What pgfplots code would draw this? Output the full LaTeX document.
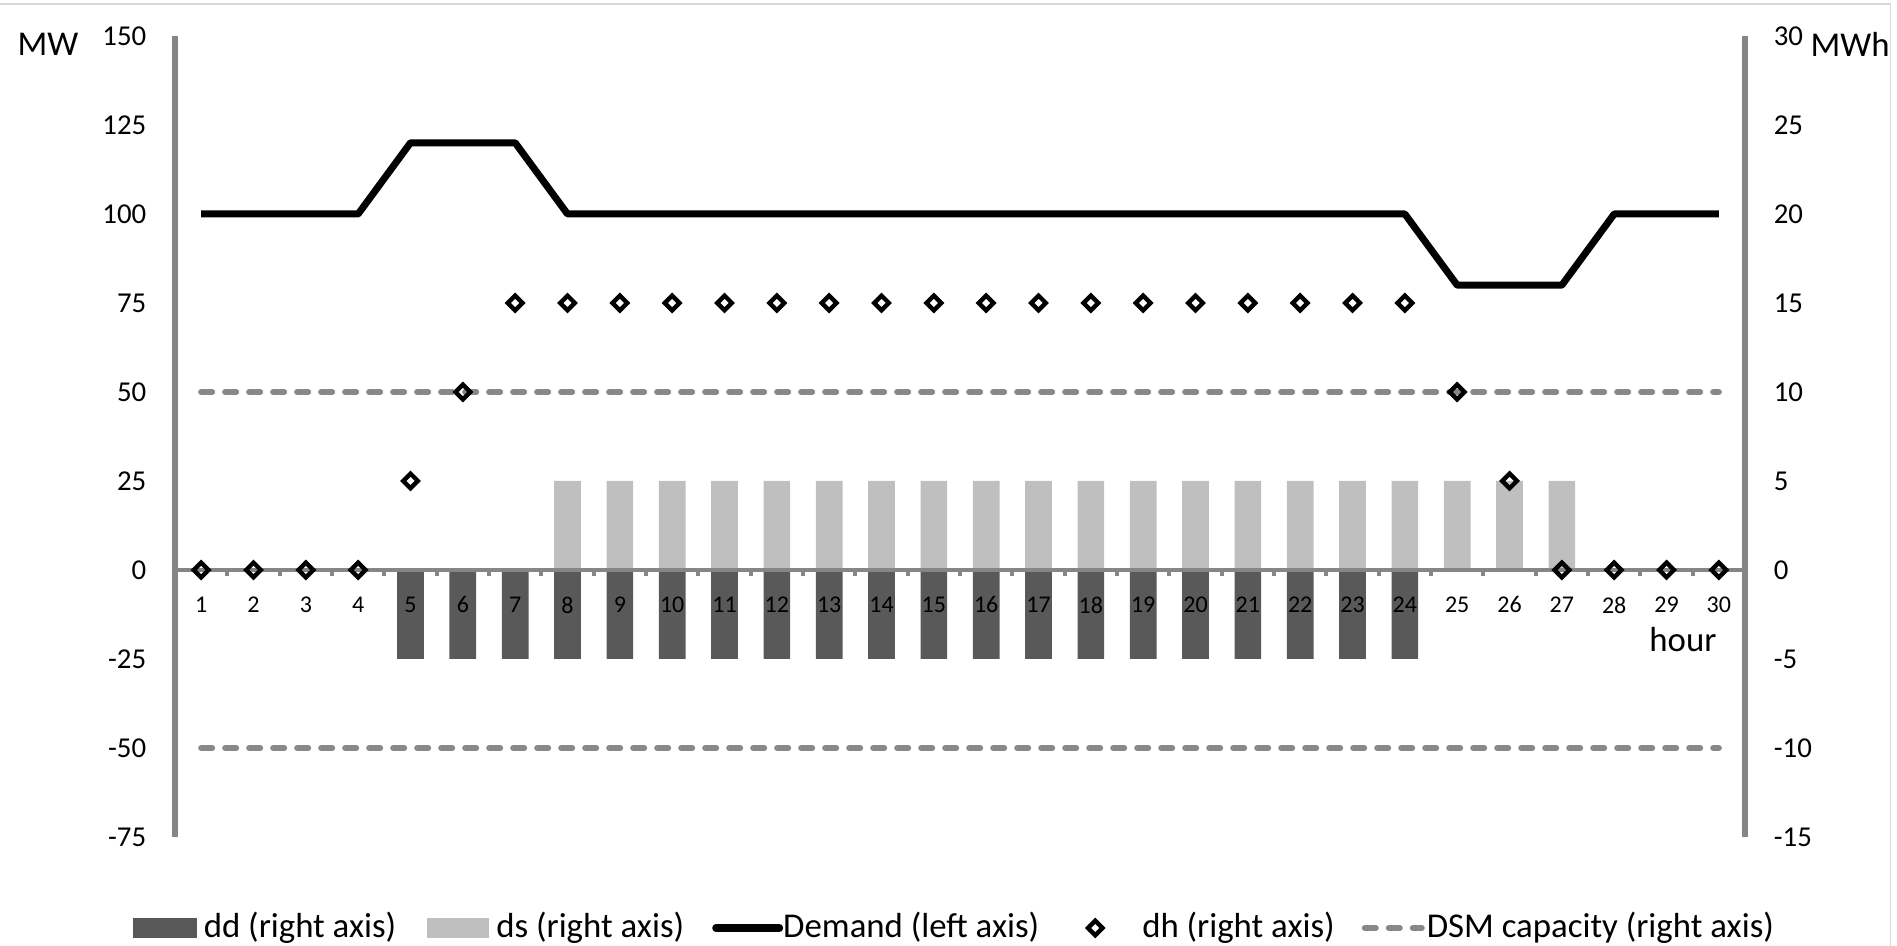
\documentclass[border=0pt]{standalone}
\usepackage{fontspec}
\setmainfont{Carlito}
\usepackage{pgfplots}
\pgfplotsset{compat=1.18}
\definecolor{ddcol}{RGB}{89,89,89}
\definecolor{dscol}{RGB}{191,191,191}
\definecolor{axgray}{RGB}{134,134,134}
\definecolor{dashgray}{RGB}{136,136,136}
\definecolor{framegray}{RGB}{217,217,217}
\begin{document}
\begin{tikzpicture}
\pgfplotsset{
  base/.style={scale only axis, width=392.5pt, height=200.25pt,
    xmin=0.5, xmax=30.5, clip=false,
    /pgf/number format/assume math mode=true,
    hide obscured x ticks=false, hide obscured y ticks=false},
}
% ---------- right axis: bars ----------
\begin{axis}[base, ymin=-15, ymax=30,
  axis y line*=right, axis x line=none,
  y axis line style={draw=axgray, line width=1.4pt},
  ytick={-15,-10,...,30}, major tick length=0pt, xtick=\empty,
  yticklabel style={font=\fontsize{7.2}{8}\selectfont, inner sep=0pt, xshift=7pt, anchor=west},
]
\addplot[ybar, bar width=0.51, bar shift=0pt, fill=ddcol, draw=none] coordinates {
(5,-5)(6,-5)(7,-5)(8,-5)(9,-5)(10,-5)(11,-5)(12,-5)(13,-5)(14,-5)
(15,-5)(16,-5)(17,-5)(18,-5)(19,-5)(20,-5)(21,-5)(22,-5)(23,-5)(24,-5)};
\addplot[ybar, bar width=0.51, bar shift=0pt, fill=dscol, draw=none] coordinates {
(8,5)(9,5)(10,5)(11,5)(12,5)(13,5)(14,5)(15,5)(16,5)(17,5)
(18,5)(19,5)(20,5)(21,5)(22,5)(23,5)(24,5)(25,5)(26,5)(27,5)};
\node[anchor=base, font=\fontsize{8.7}{10}\selectfont] at (rel axis cs:1.0669,0.974) {MWh};
\end{axis}
% ---------- left axis: demand ----------
\begin{axis}[base, ymin=-75, ymax=150,
  axis y line*=left, axis x line*=middle,
  y axis line style={draw=axgray, line width=1.4pt},
  x axis line style={draw=axgray, line width=1.1pt},
  ytick={-75,-50,...,150},
  xtick={1,...,30},
  minor xtick={1.5,2.5,...,29.5},
  major tick length=0pt, minor tick length=1.6pt,
  minor tick style={draw=axgray, line width=1pt},
  xtick align=outside,
  yticklabel style={font=\fontsize{7.2}{8}\selectfont, inner sep=0pt, xshift=-7pt, anchor=east},
  xticklabel style={font=\fontsize{6}{7}\selectfont, inner sep=0pt, yshift=-6.5pt, anchor=north},
]
\addplot[black, line width=1.75pt, line join=round] coordinates {
(1,100)(2,100)(3,100)(4,100)(5,120)(6,120)(7,120)(8,100)(9,100)(10,100)
(11,100)(12,100)(13,100)(14,100)(15,100)(16,100)(17,100)(18,100)(19,100)(20,100)
(21,100)(22,100)(23,100)(24,100)(25,80)(26,80)(27,80)(28,100)(29,100)(30,100)};
\node[anchor=base, font=\fontsize{8.7}{10}\selectfont] at (rel axis cs:-0.0809,0.975) {MW};
\node[anchor=base, font=\fontsize{8.7}{10}\selectfont] at (rel axis cs:0.9605,0.231) {hour};
\end{axis}
% ---------- right axis: dh, DSM capacity, legend ----------
\begin{axis}[base, ymin=-15, ymax=30, hide axis,
  legend columns=5,
  legend style={at={(-0.02675,-0.1136)}, anchor=west, draw=none, fill=none,
    inner sep=0pt, outer sep=0pt, column sep=0pt,
    font=\fontsize{8.7}{10}\selectfont, nodes={inner sep=0pt}},
]
\addlegendimage{legend image code/.code={\fill[ddcol] (0pt,-2.375pt) rectangle (15.5pt,2.375pt); \path[draw=none,fill=none] (0pt,0pt) -- (17.5pt,0pt);}}
\addlegendentry{dd (right axis)}
\addlegendimage{legend image code/.code={\fill[dscol] (7.75pt,-2.375pt) rectangle (23pt,2.375pt); \path[draw=none,fill=none] (0pt,0pt) -- (25pt,0pt);}}
\addlegendentry{ds (right axis)}
\addlegendimage{legend image code/.code={\draw[black, line width=1.9pt, line cap=round] (7.95pt,0pt) -- (23.8pt,0pt); \path[draw=none,fill=none] (0pt,0pt) -- (24.5pt,0pt);}}
\addlegendentry{Demand (left axis)}
\addlegendimage{legend image code/.code={\draw[black, fill=none, line width=1.1pt] (14pt,1.8pt) -- (15.8pt,0pt) -- (14pt,-1.8pt) -- (12.2pt,0pt) -- cycle; \path[draw=none,fill=none] (0pt,0pt) -- (25.75pt,0pt);}}
\addlegendentry{dh (right axis)}
\addlegendimage{legend image code/.code={\draw[dashgray, line width=1.5pt, line cap=round, dash pattern=on 2.75pt off 3.25pt] (7.5pt,0pt) -- (21.75pt,0pt); \path[draw=none,fill=none] (0pt,0pt) -- (23pt,0pt);}}
\addlegendentry{DSM capacity (right axis)}
\addplot[forget plot, dashgray, line width=1.5pt, line cap=round, dash pattern=on 2.75pt off 3.25pt] coordinates {(1,10)(30,10)};
\addplot[forget plot, dashgray, line width=1.5pt, line cap=round, dash pattern=on 2.75pt off 3.25pt] coordinates {(1,-10)(30,-10)};
\addplot[forget plot, only marks, mark=square, mark size=1.3pt, mark options={draw=black, fill=none, line width=1.1pt, rotate=45}] coordinates {
(1,0)(2,0)(3,0)(4,0)(5,5)(6,10)(7,15)(8,15)(9,15)(10,15)
(11,15)(12,15)(13,15)(14,15)(15,15)(16,15)(17,15)(18,15)(19,15)(20,15)
(21,15)(22,15)(23,15)(24,15)(25,10)(26,5)(27,0)(28,0)(29,0)(30,0)};
\draw[framegray, line width=0.3pt] (rel axis cs:-0.11146,1.04) -- (rel axis cs:1.0924,1.04) -- (rel axis cs:1.0924,-0.13608);
\coordinate (bbSW) at (rel axis cs:-0.11146,-0.13608);
\coordinate (bbNE) at (rel axis cs:1.09682,1.04494);
\end{axis}
\pgfresetboundingbox
\path[use as bounding box] (bbSW) rectangle (bbNE);
\end{tikzpicture}
\end{document}
